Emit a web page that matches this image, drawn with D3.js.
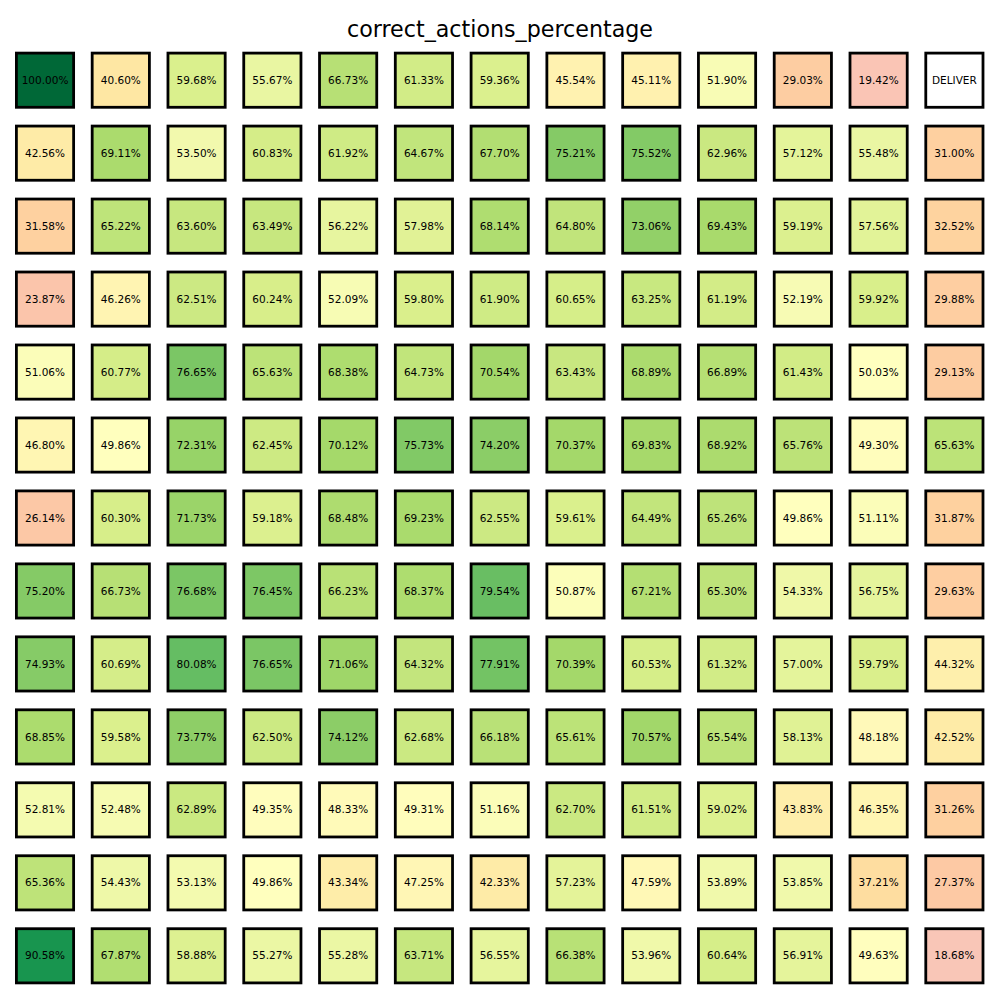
<!DOCTYPE html>
<html>
<head>
<meta charset="utf-8">
<script src="https://cdn.jsdelivr.net/npm/d3@7"></script>
<style>
  html, body { margin: 0; padding: 0; background: #fff; }
  svg { display: block; }
</style>
</head>
<body>
<svg id="chart" width="1000" height="1000"></svg>
<script>
const title = "correct_actions_percentage";
const rows = d3.range(13);
const cols = d3.range(13);
// null = label cell
const row0  = [100.00, 40.60, 59.68, 55.67, 66.73, 61.33, 59.36, 45.54, 45.11, 51.90, 29.03, 19.42, null];
const row1  = [42.56, 69.11, 53.50, 60.83, 61.92, 64.67, 67.70, 75.21, 75.52, 62.96, 57.12, 55.48, 31.00];
const row2  = [31.58, 65.22, 63.60, 63.49, 56.22, 57.98, 68.14, 64.80, 73.06, 69.43, 59.19, 57.56, 32.52];
const row3  = [23.87, 46.26, 62.51, 60.24, 52.09, 59.80, 61.90, 60.65, 63.25, 61.19, 52.19, 59.92, 29.88];
const row4  = [51.06, 60.77, 76.65, 65.63, 68.38, 64.73, 70.54, 63.43, 68.89, 66.89, 61.43, 50.03, 29.13];
const row5  = [46.80, 49.86, 72.31, 62.45, 70.12, 75.73, 74.20, 70.37, 69.83, 68.92, 65.76, 49.30, 65.63];
const row6  = [26.14, 60.30, 71.73, 59.18, 68.48, 69.23, 62.55, 59.61, 64.49, 65.26, 49.86, 51.11, 31.87];
const row7  = [75.20, 66.73, 76.68, 76.45, 66.23, 68.37, 79.54, 50.87, 67.21, 65.30, 54.33, 56.75, 29.63];
const row8  = [74.93, 60.69, 80.08, 76.65, 71.06, 64.32, 77.91, 70.39, 60.53, 61.32, 57.00, 59.79, 44.32];
const row9  = [68.85, 59.58, 73.77, 62.50, 74.12, 62.68, 66.18, 65.61, 70.57, 65.54, 58.13, 48.18, 42.52];
const row10 = [52.81, 52.48, 62.89, 49.35, 48.33, 49.31, 51.16, 62.70, 61.51, 59.02, 43.83, 46.35, 31.26];
const row11 = [65.36, 54.43, 53.13, 49.86, 43.34, 47.25, 42.33, 57.23, 47.59, 53.89, 53.85, 37.21, 27.37];
const row12 = [90.58, 67.87, 58.88, 55.27, 55.28, 63.71, 56.55, 66.38, 53.96, 60.64, 56.91, 49.63, 18.68];
const labelText = "DELIVER";

const grid = [row0,row1,row2,row3,row4,row5,row6,row7,row8,row9,row10,row11,row12];
const cells = [];
grid.forEach((r, i) => r.forEach((v, j) => cells.push({row: i, col: j, value: v})));

// matplotlib RdYlGn (linear segments)
const rdylgn = ["#a50026","#d73027","#f46d43","#fdae61","#fee08b","#ffffbf","#d9ef8b","#a6d96a","#66bd63","#1a9850","#006837"];
const color = d3.scaleLinear()
  .domain(d3.range(11).map(k => k * 10))
  .range(rdylgn)
  .interpolate(d3.interpolateRgb)
  .clamp(true);
const opacity = d3.scaleLinear().domain([0, 50]).range([0, 1]).clamp(true);

const x = d3.scaleBand().domain(cols).range([15, 984.4]).paddingInner(0.208).paddingOuter(0);
const y = d3.scaleBand().domain(rows).range([51.7, 984.3]).paddingInner(0.219).paddingOuter(0);

const svg = d3.select("#chart");
svg.append("rect").attr("width", 1000).attr("height", 1000).attr("fill", "#fff");

svg.append("text")
  .attr("x", 500).attr("y", 37)
  .attr("text-anchor", "middle")
  .attr("font-family", "DejaVu Sans")
  .attr("font-size", "22.2px")
  .attr("fill", "#000")
  .text(title);

const sw = 2.8;
const g = svg.append("g");
const cell = g.selectAll("g.cell").data(cells).enter().append("g").attr("class", "cell");

cell.append("rect")
  .attr("x", d => x(d.col) + sw / 2)
  .attr("y", d => y(d.row) + sw / 2)
  .attr("width", x.bandwidth() - sw)
  .attr("height", y.bandwidth() - sw)
  .attr("fill", d => d.value == null ? "#ffffff" : color(d.value))
  .attr("fill-opacity", d => d.value == null ? 1 : opacity(d.value))
  .attr("stroke", "#000")
  .attr("stroke-width", sw);

cell.append("text")
  .attr("x", d => x(d.col) + x.bandwidth() / 2)
  .attr("y", d => y(d.row) + y.bandwidth() / 2 + 3.6)
  .attr("text-anchor", "middle")
  .attr("font-family", "DejaVu Sans")
  .attr("font-size", "10.5px")
  .attr("fill", "#000")
  .text(d => d.value == null ? labelText : d.value.toFixed(2) + "%");
</script>
</body>
</html>
